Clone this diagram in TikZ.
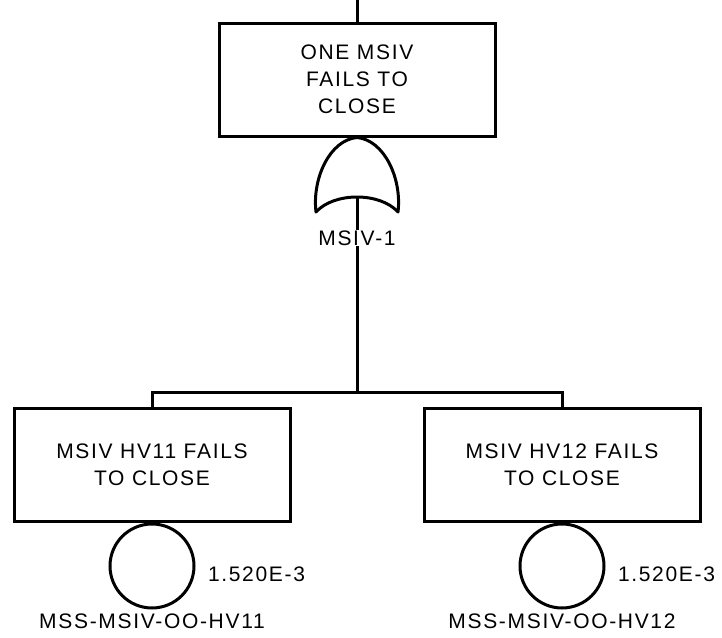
\documentclass[tikz,border=0pt]{standalone}
\usepackage{fontspec}
\newfontfamily\treefont[LetterSpace=8]{Liberation Sans}
\usepackage{tikz}
\usetikzlibrary{positioning}

\begin{document}
\begin{tikzpicture}[
  x=1pt, y=-1pt,
  line width=3pt,
  event/.style={draw, rectangle, minimum width=276pt, minimum height=113pt, align=center, inner sep=0pt, font=\treefont\fontsize{21}{27}\selectfont},
  basic/.style={draw, circle, minimum size=84pt, inner sep=0pt},
  lbl/.style={inner sep=1pt, font=\treefont\fontsize{21}{25}\selectfont},
]
\useasboundingbox (0,0) rectangle (722,637);

% Nodes
\node[event] (top) at (357,79.5) {ONE MSIV\\FAILS TO\\CLOSE};
\node[event] (hv11) at (152,464.5) {MSIV HV11 FAILS\\TO CLOSE};
\node[event] (hv12) at (562,464.5) {MSIV HV12 FAILS\\TO CLOSE};
\node[basic, anchor=north] (be11) at (hv11.south) {};
\node[basic, anchor=north] (be12) at (hv12.south) {};
\node[lbl, right=10pt of be11, yshift=-8pt] (p11) {1.520E-3};
\node[lbl, right=10pt of be12, yshift=-8pt] (p12) {1.520E-3};
\node[lbl, below=2pt of be11] (id11) {MSS-MSIV-OO-HV11};
\node[lbl, below=2pt of be12] (id12) {MSS-MSIV-OO-HV12};

% OR gate
\coordinate (in) at (357,0);
\coordinate (gout) at (357,197);
\coordinate (bus) at (357,392);
\draw[line join=round] (top.south) .. controls (330,140) and (312,178) .. (316,212)
  .. controls (334,192) and (380,192) .. (398,212)
  .. controls (402,178) and (384,140) .. (top.south);

% Connectors
\draw (in) -- (top.north);
\draw (gout) -- (bus);
\draw (bus) -| (hv11.north);
\draw (bus) -| (hv12.north);
\node[lbl, fill=white] (gate) at (357,238) {MSIV-1};
\end{tikzpicture}
\end{document}
